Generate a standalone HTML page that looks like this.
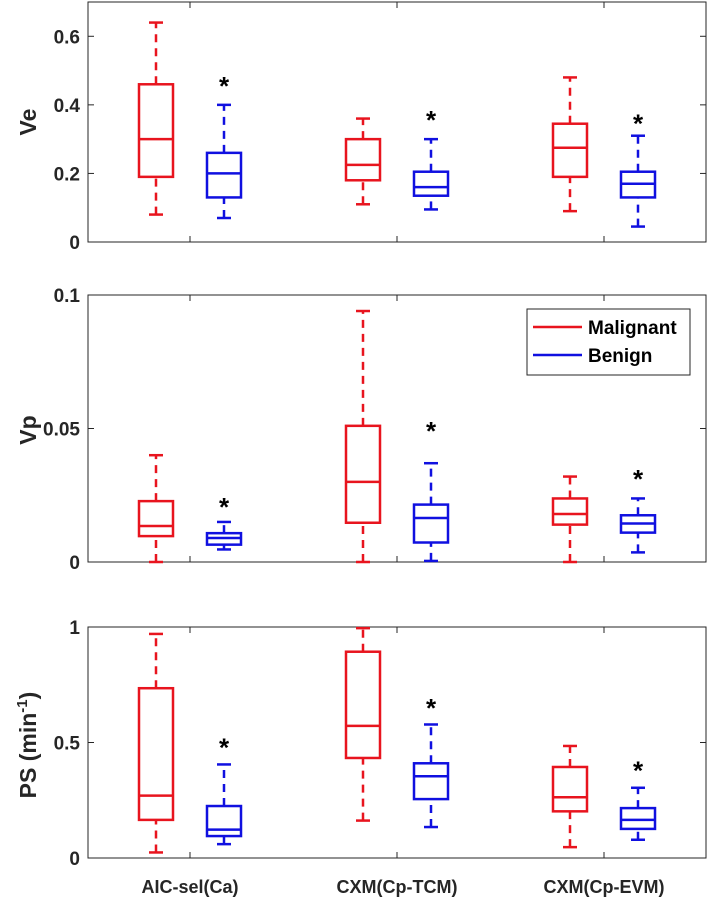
<!DOCTYPE html>
<html><head><meta charset="utf-8"><style>
html,body{margin:0;padding:0;background:#fff;}
svg text{font-family:"Liberation Sans",Arial,sans-serif;font-weight:bold;}
</style></head><body>
<svg id="fig" width="708" height="900" viewBox="0 0 708 900" xmlns="http://www.w3.org/2000/svg"></svg>
<script>
const categories = ["AIC-sel(Ca)", "CXM(Cp-TCM)", "CXM(Cp-EVM)"];
const seriesNames = ["Malignant", "Benign"];
const panelLabels = ["Ve", "Vp", "PS"];
const panelMax = [0.7, 0.1, 1];
const ticksVe = [0, 0.2, 0.4, 0.6];
const tickLabelsVe = ["0", "0.2", "0.4", "0.6"];
const ticksVp = [0, 0.05, 0.1];
const tickLabelsVp = ["0", "0.05", "0.1"];
const ticksPS = [0, 0.5, 1];
const tickLabelsPS = ["0", "0.5", "1"];
// each stat: [whiskerLow, q1, median, q3, whiskerHigh]
const veMalignant = [[0.08,0.19,0.30,0.46,0.64],[0.11,0.18,0.225,0.30,0.36],[0.09,0.19,0.275,0.345,0.48]];
const veBenign    = [[0.07,0.13,0.20,0.26,0.40],[0.095,0.135,0.16,0.205,0.30],[0.045,0.13,0.17,0.205,0.31]];
const veStars = [0.47, 0.37, 0.36];
const vpMalignant = [[0,0.0097,0.0135,0.0228,0.040],[0,0.0147,0.030,0.051,0.094],[0,0.014,0.018,0.0238,0.032]];
const vpBenign    = [[0.0047,0.0065,0.009,0.0108,0.015],[0.0004,0.0073,0.0165,0.0215,0.037],[0.0036,0.011,0.0144,0.0175,0.0238]];
const vpStars = [0.0225, 0.051, 0.033];
const psMalignant = [[0.024,0.165,0.27,0.735,0.97],[0.162,0.433,0.572,0.893,0.995],[0.047,0.202,0.263,0.394,0.485]];
const psBenign    = [[0.06,0.095,0.123,0.225,0.405],[0.134,0.255,0.354,0.41,0.578],[0.079,0.126,0.165,0.216,0.304]];
const psStars = [0.5, 0.67, 0.4];

const NS = "http://www.w3.org/2000/svg";
const svg = document.getElementById("fig");
function el(tag, attrs, parent) {
  const e = document.createElementNS(NS, tag);
  for (const k in attrs) e.setAttribute(k, attrs[k]);
  (parent || svg).appendChild(e);
  return e;
}
const X0 = 88, X1 = 706;
const catX = [190, 397, 604];
const offset = 34, halfW = 17, capW = 7;
const panels = [
  {top: 2, bot: 242, ticks: ticksVe, labels: tickLabelsVe, mal: veMalignant, ben: veBenign, stars: veStars, name: "ve"},
  {top: 295, bot: 562, ticks: ticksVp, labels: tickLabelsVp, mal: vpMalignant, ben: vpBenign, stars: vpStars, name: "vp"},
  {top: 627, bot: 858, ticks: ticksPS, labels: tickLabelsPS, mal: psMalignant, ben: psBenign, stars: psStars, name: "ps"}
];
const colors = ["#e8141e", "#1010e0"];

panels.forEach((p, pi) => {
  const g = el("g", {});
  
  
  const y = v => p.bot - v / panelMax[pi] * (p.bot - p.top);
  const frame = el("rect", {x: X0, y: p.top, width: X1 - X0, height: p.bot - p.top, fill: "none", stroke: "#262626", "stroke-width": 1}, g);
  
  
  p.ticks.forEach((t, i) => {
    const yy = y(t);
    el("line", {x1: X0, x2: X0 + 6, y1: yy, y2: yy, stroke: "#262626"}, g);
    el("line", {x1: X1 - 6, x2: X1, y1: yy, y2: yy, stroke: "#262626"}, g);
    const tx = el("text", {x: 80, y: yy + 7, "text-anchor": "end", "font-size": 19, fill: "#262626"}, g);
    tx.textContent = p.labels[i];
    
    
  });
  catX.forEach(cx => {
    el("line", {x1: cx, x2: cx, y1: p.bot, y2: p.bot - 6, stroke: "#262626"}, g);
    el("line", {x1: cx, x2: cx, y1: p.top, y2: p.top + 6, stroke: "#262626"}, g);
  });
  [p.mal, p.ben].forEach((series, si) => {
    series.forEach((s, ci) => {
      const cx = catX[ci] + (si === 0 ? -offset : offset);
      const col = colors[si];
      const bg = el("g", {stroke: col, "stroke-width": 2.5, fill: "none"}, g);
      
      
      el("line", {x1: cx, x2: cx, y1: y(s[0]), y2: y(s[1]), "stroke-dasharray": "8,6"}, bg);
      el("line", {x1: cx, x2: cx, y1: y(s[3]), y2: y(s[4]), "stroke-dasharray": "8,6"}, bg);
      el("line", {x1: cx - capW, x2: cx + capW, y1: y(s[0]), y2: y(s[0])}, bg);
      el("line", {x1: cx - capW, x2: cx + capW, y1: y(s[4]), y2: y(s[4])}, bg);
      el("rect", {x: cx - halfW, y: y(s[3]), width: 2 * halfW, height: y(s[1]) - y(s[3])}, bg);
      el("line", {x1: cx - halfW, x2: cx + halfW, y1: y(s[2]), y2: y(s[2])}, bg);
    });
  });
  p.stars.forEach((sv, ci) => {
    const st = el("text", {x: catX[ci] + offset, y: y(sv) + 14, "text-anchor": "middle", "font-size": 26, fill: "#000"}, g);
    st.textContent = "*";
    
    
  });
});

function ylabel(cy, name) {
  const t = el("text", {x: 0, y: 0, transform: "translate(36," + cy + ") rotate(-90)", "text-anchor": "middle", "font-size": 23, fill: "#262626"});
  
  
  return t;
}
ylabel(122, "ve-y-axis-title").textContent = "Ve";
ylabel(430, "vp-y-axis-title").textContent = "Vp";
const ps = ylabel(745, "ps-y-axis-title");
ps.appendChild(document.createTextNode("PS (min"));
const sup = el("tspan", {"font-size": 15, dy: -9}, ps); sup.textContent = "-1";
const cl = el("tspan", {dy: 9}, ps); cl.textContent = ")";

categories.forEach((c, i) => {
  const t = el("text", {x: catX[i], y: 893, "text-anchor": "middle", "font-size": 18, fill: "#262626"});
  t.textContent = c;
  
  
});

const lg = el("g", {});


el("rect", {x: 527, y: 309, width: 163, height: 66, fill: "#fff", stroke: "#262626"}, lg);
seriesNames.forEach((n, i) => {
  const yy = 327 + i * 28;
  el("line", {x1: 533, x2: 582, y1: yy, y2: yy, stroke: colors[i], "stroke-width": 2.5}, lg);
  const t = el("text", {x: 588, y: yy + 7, "font-size": 19, fill: "#000"}, lg);
  t.textContent = n;
  
  
});
</script>
</body></html>
